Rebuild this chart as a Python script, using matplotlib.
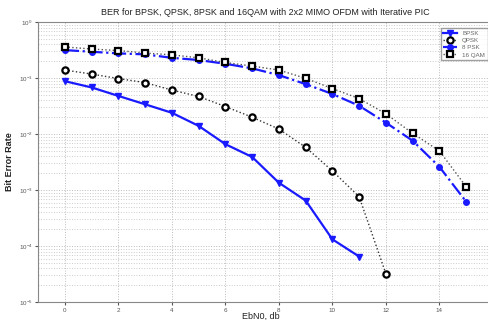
import numpy as np
import matplotlib
matplotlib.use("Agg")
import matplotlib.pyplot as plt

plt.rcParams['font.family'] = ['Liberation Sans', 'DejaVu Sans']

snr_bpsk = list(range(0, 12))
ber_bpsk = [0.088, 0.068, 0.048, 0.034, 0.024, 0.014, 0.0066, 0.0039,
            0.00135, 0.00065, 0.000132, 6.5e-5]

snr_qpsk = list(range(0, 13))
ber_qpsk = [0.139, 0.118, 0.098, 0.083, 0.061, 0.047, 0.031, 0.020,
            0.0123, 0.0058, 0.0022, 0.00076, 3.2e-5]

snr_8psk = list(range(0, 16))
ber_8psk = [0.316, 0.295, 0.276, 0.265, 0.23, 0.21, 0.18, 0.149,
            0.113, 0.078, 0.052, 0.032, 0.016, 0.0076, 0.0026, 0.00062]

snr_16qam = list(range(0, 16))
ber_16qam = [0.36, 0.33, 0.31, 0.28, 0.26, 0.23, 0.19, 0.164,
             0.139, 0.099, 0.065, 0.043, 0.023, 0.0103, 0.005, 0.00115]

fig = plt.figure(figsize=(4.89, 3.2), dpi=100)
ax = fig.add_axes([0.078, 0.056, 0.93, 0.875])

ax.semilogy(snr_bpsk, ber_bpsk, '-', color='#1a1aff', lw=1.6, marker='v',
            ms=4.5, mfc='#1a1aff', mec='#1a1aff', label='BPSK')
ax.semilogy(snr_qpsk, ber_qpsk, ':', color='#333333', lw=1.0, marker='o',
            ms=4.5, mfc='white', mec='black', mew=1.6, label='QPSK')
ax.semilogy(snr_8psk, ber_8psk, '-.', color='#1a1aff', lw=1.6, marker='o',
            ms=4, mfc='#1a1aff', mec='#1a1aff', label='8 PSK')
ax.semilogy(snr_16qam, ber_16qam, ':', color='#555555', lw=1.0, marker='s',
            ms=4, mfc='white', mec='black', mew=1.6, label='16 QAM')

ax.set_xlim(-1, 16)
ax.set_ylim(1e-5, 1)
ax.set_xticks([0, 2, 4, 6, 8, 10, 12, 14])
ax.grid(True, which='major', ls=':', color='#bbbbbb', lw=0.7)
ax.grid(True, which='minor', axis='y', ls=':', color='#cccccc', lw=0.7)
ax.tick_params(labelsize=4.5, colors='#555555', length=2, pad=2)
ax.tick_params(which='minor', length=0)
for s in ax.spines.values():
    s.set_color('#888888')

ax.set_title('BER for BPSK, QPSK, 8PSK and 16QAM with 2x2 MIMO OFDM with Iterative PIC',
             fontsize=6.5, color='#222222', pad=5)
ax.set_xlabel('EbN0, db', fontsize=6.5, color='#222222')
ax.xaxis.set_label_coords(0.49, -0.034)
ax.set_ylabel('Bit Error Rate', fontsize=6.5, color='#222222', fontweight='bold')
ax.yaxis.set_label_coords(-0.052, 0.5)

leg = ax.legend(loc='upper right', fontsize=4.5, bbox_to_anchor=(0.995, 0.99),
                fancybox=False, edgecolor='#888888', handlelength=2.2,
                labelspacing=0.3, borderpad=0.4)
for t in leg.get_texts():
    t.set_color('#666666')

fig.savefig('out.png', dpi=100)
